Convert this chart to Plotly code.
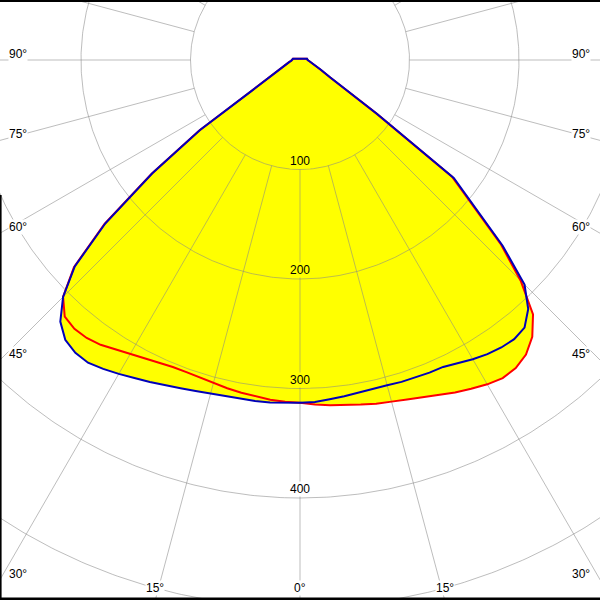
import numpy as np
import plotly.graph_objects as go

# ---- data (luminous intensity) ----
gamma = [0, 2.5, 5, 7.5, 10, 12.5, 15, 17.5, 20, 22.5, 25, 27.5, 30, 32.5, 35, 37.5,
         40, 42.5, 45, 47.5, 50, 52.5, 55, 57.5, 60, 65, 70, 75, 80, 85, 90, 95, 100]

# C0-C180 plane (red): left half / right half
red_left = [313, 312.5, 311.5, 310, 308.5, 307, 305, 303.8, 303.3, 303.5, 305, 307.5, 310,
            313.5, 317.5, 320, 320.5, 318, 306, 280, 233, 171, 112.5, 53, 36.5,
            22, 16, 12.5, 9.8, 8, 7, 6.6, 6.5]
red_right = [313, 315, 316.5, 318, 319.5, 321.5, 323, 325, 328.3, 331, 335, 338.5, 342,
             344.5, 343.5, 339, 330, 315, 285, 248.5, 204.5, 175, 85, 46, 31.5,
             20.5, 15.5, 12, 9.5, 8, 7, 6.6, 6.5]
# C90-C270 plane (blue): left half / right half
blue_left = [313, 313.5, 314, 314, 314, 314.5, 315.5, 317, 319, 321.5, 324.4, 327.5, 331,
             334.5, 337.5, 337, 333.5, 324, 306, 279, 232, 170, 111.5, 52, 36,
             22, 16, 12.5, 9.8, 8, 7, 6.6, 6.5]
blue_right = [313, 312.7, 311, 309.8, 308.8, 307.8, 307.5, 308.2, 308.5, 309, 309.3, 312,
              315.5, 318.5, 320.5, 321.3, 319, 308.5, 290, 251, 206.5, 177, 86, 47, 32,
              21, 15.5, 12, 9.5, 8, 7, 6.6, 6.5]

ring_values = [100, 200, 300, 400, 500, 600]
ring_labels = ["100", "200", "300", "400"]
angle_lines = list(range(0, 360, 15))
side_label_angles = [90, 75, 60, 45, 30]
bottom_label_angles = [15, 0]

# ---- geometry ----
K = 1.095          # pixels per candela unit
W, H = 600, 600
CX, CY = 300, 60   # pole position in pixels

def to_xy(g_deg, r, side):
    g = np.radians(np.asarray(g_deg, float))
    r = np.asarray(r, float)
    return side * r * np.sin(g), -r * np.cos(g)

def closed_curve(left, right):
    xl, yl = to_xy(gamma, left, -1)
    xr, yr = to_xy(gamma[::-1], right[::-1], 1)
    return np.concatenate([xl, xr]), np.concatenate([yl, yr])

fig = go.Figure()

curves = [(red_left, red_right, "red"), (blue_left, blue_right, "rgb(0,0,185)")]

# yellow fills
for L, R, c in curves:
    x, y = closed_curve(L, R)
    fig.add_trace(go.Scatter(x=x, y=y, mode="lines", fill="toself",
                             fillcolor="#ffff00", line=dict(width=0),
                             hoverinfo="skip", showlegend=False))

# grid: rings
gx, gy = [], []
th = np.linspace(0, 2 * np.pi, 721)
for rv in ring_values:
    gx += list(rv * np.sin(th)) + [None]
    gy += list(-rv * np.cos(th)) + [None]
# grid: radial lines starting at the first ring
for a in angle_lines:
    ar = np.radians(a)
    gx += [ring_values[0] * np.sin(ar), 800 * np.sin(ar), None]
    gy += [-ring_values[0] * np.cos(ar), -800 * np.cos(ar), None]
fig.add_trace(go.Scatter(x=gx, y=gy, mode="lines",
                         line=dict(color="rgba(135,135,135,0.55)", width=1),
                         hoverinfo="skip", showlegend=False))

# curve outlines
for L, R, c in curves:
    x, y = closed_curve(L, R)
    fig.add_trace(go.Scatter(x=x, y=y, mode="lines",
                             line=dict(color=c, width=2),
                             hoverinfo="skip", showlegend=False))

font = dict(family="Liberation Sans, Arial, sans-serif", size=12, color="black")
ann = []
# ring labels
for t in ring_labels:
    v = float(t)
    ann.append(dict(x=0, y=-v, xref="x", yref="y", text=t, showarrow=False,
                    yanchor="bottom", xanchor="center", yshift=1, font=font,
                    bgcolor="#ffff00" if v < 313 else "white", borderpad=0))

# angle labels where the radial lines leave the picture
def label_pixel(theta, side):
    t = np.radians(theta)
    s_side = (W - CX) / np.sin(t) if np.sin(t) > 1e-9 else np.inf
    s_bot = (H - CY) / np.cos(t) if np.cos(t) > 1e-9 else np.inf
    if s_side <= s_bot:
        px = 18 if side < 0 else W - 19
        py = CY + ((W - CX) / np.tan(t) if theta != 90 else 0)
        return px, py - 6
    px = CX + side * (H - CY) * np.tan(t)
    return px, H - 12

labels = [(a, s) for a in side_label_angles for s in (-1, 1)]
labels += [(15, -1), (0, 0), (15, 1)]
for a, s in labels:
    px, py = label_pixel(a, s if s != 0 else 1)
    ann.append(dict(x=(px - CX) / K, y=(CY - py) / K, xref="x", yref="y",
                    text=f"{a}°", showarrow=False, xanchor="center", yanchor="middle",
                    font=font, bgcolor="white", borderpad=0))

shapes = [
    dict(type="rect", xref="paper", yref="paper", x0=0, x1=1, y0=1 - 2 / H, y1=1,
         fillcolor="black", line=dict(width=0)),
    dict(type="rect", xref="paper", yref="paper", x0=0, x1=1, y0=0, y1=2.5 / H,
         fillcolor="black", line=dict(width=0)),
    dict(type="rect", xref="paper", yref="paper", x0=0, x1=1.6 / W, y0=0, y1=1 - 195 / H,
         fillcolor="black", line=dict(width=0)),
]

fig.update_layout(
    width=W, height=H, margin=dict(l=0, r=0, t=0, b=0),
    paper_bgcolor="white", plot_bgcolor="white",
    xaxis=dict(range=[-CX / K, (W - CX) / K], visible=False, fixedrange=True),
    yaxis=dict(range=[-(H - CY) / K, CY / K], visible=False, fixedrange=True),
    annotations=ann, shapes=shapes, showlegend=False,
)

fig.write_html("out.html", config={"displayModeBar": False},
               post_script="document.body.style.margin='0';document.body.style.overflow='hidden';")
